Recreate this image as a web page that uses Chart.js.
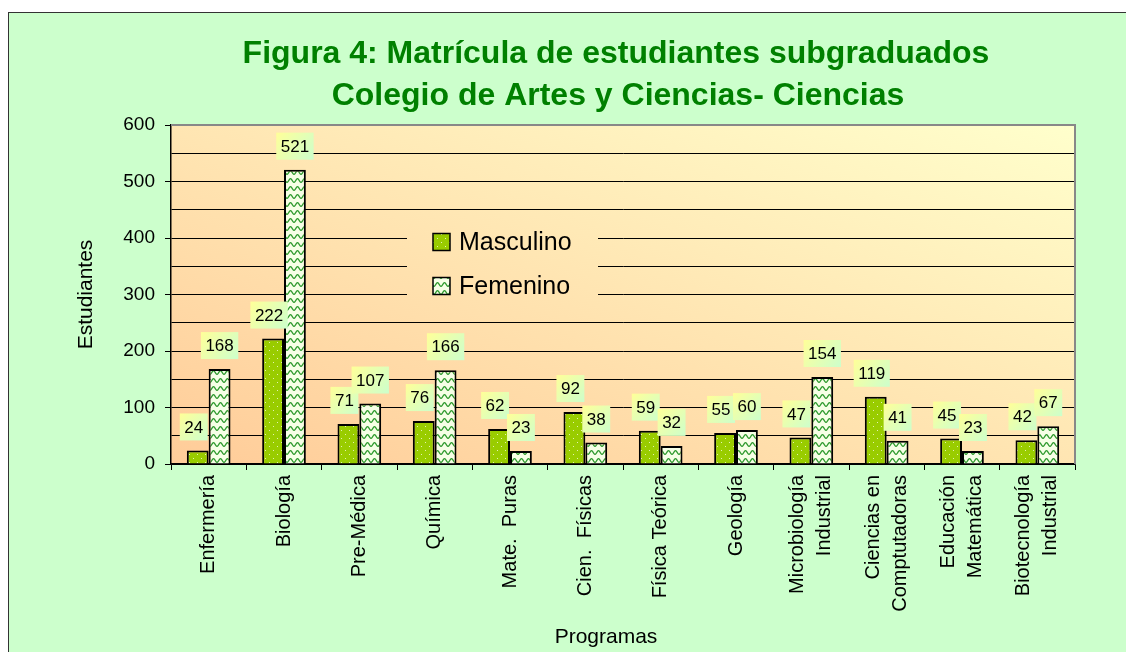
<!DOCTYPE html>
<html><head><meta charset="utf-8">
<script src="https://cdn.jsdelivr.net/npm/chart.js@4.4.1/dist/chart.umd.min.js"></script>
<style>html,body{margin:0;padding:0;background:#fff;overflow:hidden}canvas{display:block}</style>
</head><body>
<canvas id="c" width="1126" height="652"></canvas>
<script>
const categories = ['Enfermería','Biología','Pre-Médica','Química','Mate.  Puras','Cien.  Físicas','Física Teórica','Geología',['Microbiología','Industrial'],['Ciencias en','Comptutadoras'],['Educación','Matemática'],['Biotecnología','Industrial']];
const masculino = [24,222,71,76,62,92,59,55,47,119,45,42];
const femenino = [168,521,107,166,23,38,32,60,154,41,23,67];
const seriesNames = ['Masculino','Femenino'];
const yTickLabels = [0,100,200,300,400,500,600];
const titleLines = ['Figura 4: Matrícula de estudiantes subgraduados','Colegio de Artes y Ciencias- Ciencias'];
const yTitle = 'Estudiantes';
const xTitle = 'Programas';

const FONT = '"Liberation Sans", Arial, Helvetica, sans-serif';
Chart.defaults.font.family = FONT;
Chart.defaults.color = '#000';

const canvas = document.getElementById('c');
const mainCtx = canvas.getContext('2d');

function makeDotPattern(){
  const t = document.createElement('canvas'); t.width = 8; t.height = 8;
  const g = t.getContext('2d');
  g.fillStyle = '#99CC00'; g.fillRect(0,0,8,8);
  g.fillStyle = '#E4F4B0'; g.fillRect(1,2,1,1); g.fillRect(5,6,1,1);
  return mainCtx.createPattern(t,'repeat');
}
function makeWavePattern(){
  const t = document.createElement('canvas'); t.width = 7; t.height = 8;
  const g = t.getContext('2d');
  g.fillStyle = '#F6FFE6'; g.fillRect(0,0,7,8);
  g.strokeStyle = '#2E9A2E'; g.lineWidth = 1.3;
  for (const dy of [-8,0,8]) {
    g.beginPath();
    let first = true;
    for (let x = -1; x <= 8; x += 0.5) {
      const y = 4.5 - 1.8*Math.cos(2*Math.PI*(x-3.5)/7) + dy;
      if (first) { g.moveTo(x, y); first = false; } else g.lineTo(x, y);
    }
    g.stroke();
  }
  return mainCtx.createPattern(t,'repeat');
}
const dotPat = makeDotPattern();
const wavePat = makeWavePattern();

function plotGradient(ctx, a){
  const w = a.right - a.left, h = a.bottom - a.top;
  const k = 2*w*h/(h*h + w*w);
  const g = ctx.createLinearGradient(a.left, a.bottom, a.left + h*k, a.bottom - w*k);
  g.addColorStop(0, '#FFCC99');
  g.addColorStop(1, '#FFFFCC');
  return g;
}

const framePlugin = {
  id: 'frame',
  beforeDraw(chart){
    const {ctx, chartArea: a} = chart;
    ctx.save();
    ctx.fillStyle = '#fff'; ctx.fillRect(0,0,chart.width,chart.height);
    ctx.fillStyle = '#CCFFCC'; ctx.fillRect(8,12,chart.width,chart.height);
    ctx.strokeStyle = '#333'; ctx.lineWidth = 1;
    ctx.strokeRect(8.5,12.5,chart.width+20,chart.height+20);
    ctx.fillStyle = plotGradient(ctx, a);
    ctx.fillRect(a.left, a.top, a.right - a.left, a.bottom - a.top);
    ctx.restore();
    // center multi-line rotated category labels on their ticks
    const xs = chart.scales.x;
    const items = xs.getLabelItems();
    items.forEach(it => {
      if (Array.isArray(it.label) && !it._shifted) {
        const lh = it.font.lineHeight;
        it.options.translation[0] -= lh * (it.label.length - 1) / 2;
        it._shifted = true;
      }
    });
  },
  beforeDatasetsDraw(chart){
    const {ctx, chartArea: a} = chart;
    ctx.save();
    ctx.strokeStyle = '#888'; ctx.lineWidth = 2;
    ctx.beginPath(); ctx.moveTo(a.left, a.top); ctx.lineTo(a.right, a.top); ctx.lineTo(a.right, a.bottom); ctx.stroke();
    const lx = 407, ly = 215, lw = 191, lh = 90;
    ctx.fillStyle = plotGradient(ctx, a);
    ctx.fillRect(lx, ly, lw, lh);
    const pats = [dotPat, wavePat];
    const rows = [242, 286];
    ctx.font = '25px ' + FONT;
    ctx.textAlign = 'left'; ctx.textBaseline = 'middle';
    seriesNames.forEach((name, i) => {
      const y = rows[i];
      ctx.fillStyle = pats[i];
      ctx.fillRect(433, y - 8.5, 17, 17);
      ctx.strokeStyle = '#000'; ctx.lineWidth = 1.5;
      ctx.strokeRect(433, y - 8.5, 17, 17);
      ctx.fillStyle = '#000';
      ctx.fillText(name, 459, y + 1);
    });
    ctx.restore();
  },
  afterDatasetsDraw(chart){
    const ctx = chart.ctx;
    ctx.save();
    ctx.font = '17px ' + FONT;
    ctx.textAlign = 'center'; ctx.textBaseline = 'middle';
    chart.data.datasets.forEach((ds, di) => {
      const meta = chart.getDatasetMeta(di);
      meta.data.forEach((el, i) => {
        const txt = String(ds.data[i]);
        const w = ctx.measureText(txt).width + 9;
        const h = 27;
        const cx = el.x + (di === 0 ? -4 : 0);
        const y0 = el.y - 10 - h;
        const x0 = cx - w/2;
        const gr = ctx.createLinearGradient(x0, y0, x0 + w, y0 + h);
        gr.addColorStop(0, '#FFFF99'); gr.addColorStop(1, '#CCFFCC');
        ctx.fillStyle = gr; ctx.fillRect(x0, y0, w, h);
        ctx.fillStyle = '#000';
        ctx.fillText(txt, cx, y0 + h/2 + 1);
      });
    });
    ctx.restore();
  },
  afterDraw(chart){
    const ctx = chart.ctx;
    ctx.save();
    ctx.fillStyle = '#008000';
    ctx.font = 'bold 32px ' + FONT;
    ctx.textAlign = 'center'; ctx.textBaseline = 'alphabetic';
    ctx.fillText(titleLines[0], 616, 63);
    ctx.fillText(titleLines[1], 618, 105);
    ctx.fillStyle = '#000';
    ctx.font = '21px ' + FONT;
    ctx.fillText(xTitle, 606, 643);
    ctx.restore();
  }
};

new Chart(mainCtx, {
  type: 'bar',
  data: {
    labels: categories,
    datasets: [
      {label: seriesNames[0], data: masculino, backgroundColor: dotPat, borderColor: '#000', borderWidth: 2, categoryPercentage: 0.58, barPercentage: 1},
      {label: seriesNames[1], data: femenino, backgroundColor: wavePat, borderColor: '#000', borderWidth: 2, categoryPercentage: 0.58, barPercentage: 1}
    ]
  },
  options: {
    responsive: false,
    animation: false,
    layout: {padding: {left: 70, right: 51, top: 125, bottom: 0}},
    plugins: {legend: {display: false}, title: {display: false}, tooltip: {enabled: false}},
    scales: {
      x: {
        offset: true,
        grid: {offset: true, drawOnChartArea: false, drawTicks: true, tickLength: 6, tickColor: '#000', tickWidth: 1},
        border: {color: '#000', width: 1.5},
        ticks: {color: '#000', font: {size: 20, lineHeight: 1.35}, minRotation: 90, maxRotation: 90, padding: 5, autoSkip: false},
        afterFit(s){ s.height = 188; }
      },
      y: {
        min: 0, max: 600,
        ticks: {stepSize: 50, color: '#000', font: {size: 19}, padding: 10,
          callback: v => yTickLabels.includes(v) ? String(v) : ''},
        grid: {
          color: c => (c.tick && c.tick.value === 600) ? '#888' : '#000',
          tickColor: c => (c.tick && yTickLabels.includes(c.tick.value)) ? '#000' : 'rgba(0,0,0,0)',
          tickLength: 6, lineWidth: 1
        },
        border: {color: '#000', width: 1.5},
        title: {display: true, text: yTitle, color: '#000', font: {size: 21}},
        afterFit(s){ s.width = 101; }
      }
    }
  },
  plugins: [framePlugin]
});
</script>
</body></html>
